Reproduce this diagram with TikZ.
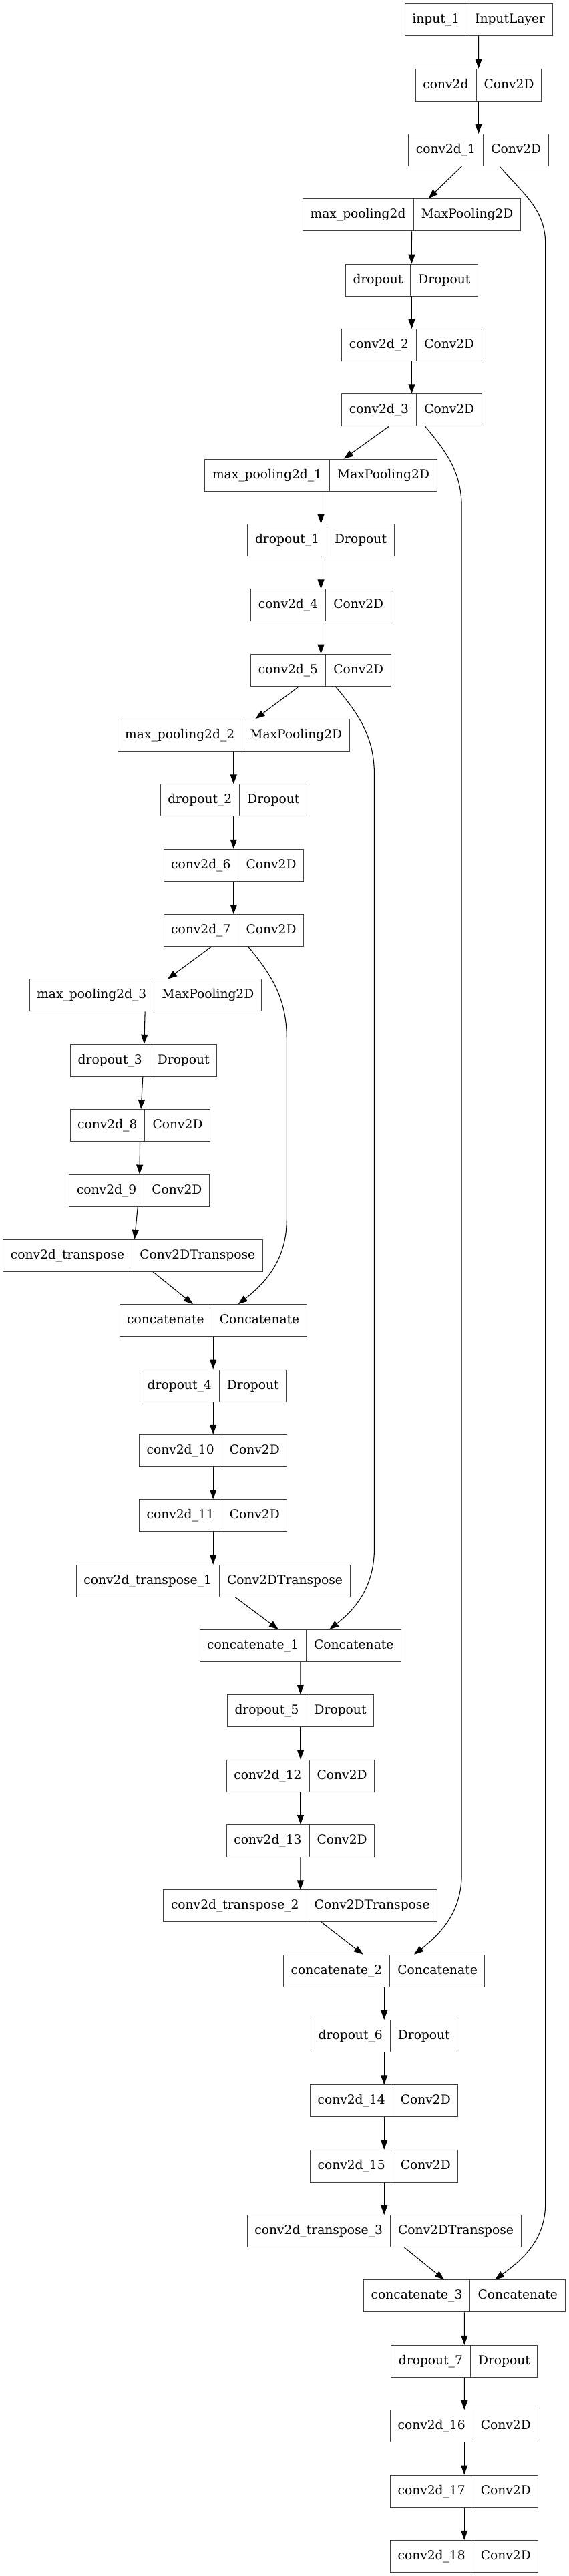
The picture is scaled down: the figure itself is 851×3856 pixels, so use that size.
\documentclass[tikz,border=0pt]{standalone}
\usepackage{fontspec}
\setmainfont{DejaVu Serif}
\usetikzlibrary{shapes.multipart,arrows.meta}
\tikzstyle{layer}=[draw=black!75,line width=0.75pt,rectangle split,rectangle split horizontal,
  rectangle split parts=2,rectangle split part align=base,inner xsep=8.3pt,inner ysep=10.75pt,
  text height=11pt,text depth=3.5pt,font=\fontsize{14}{17}\selectfont]
\tikzstyle{link}=[line width=0.8pt,-{Triangle[length=10.5pt,width=7.5pt]}]

\begin{document}
\begin{tikzpicture}[x=0.75pt,y=-0.75pt]
  \useasboundingbox (0,0) rectangle (851,3856);
  % encoder
  \node[layer] (in1) at (716.7,29.7) {input\_1\nodepart{two}InputLayer};
  \node[layer] (c0) at (716.5,127.05) {conv2d\nodepart{two}Conv2D};
  \node[layer] (c1) at (716.5,224.4) {conv2d\_1\nodepart{two}Conv2D};
  \node[layer] (mp0) at (616.5,321.75) {max\_pooling2d\nodepart{two}MaxPooling2D};
  \node[layer] (dr0) at (616.4,419.1) {dropout\nodepart{two}Dropout};
  \node[layer] (c2) at (616.5,516.45) {conv2d\_2\nodepart{two}Conv2D};
  \node[layer] (c3) at (616.5,613.8) {conv2d\_3\nodepart{two}Conv2D};
  \node[layer] (mp1) at (480.5,711.15) {max\_pooling2d\_1\nodepart{two}MaxPooling2D};
  \node[layer] (dr1) at (480.5,808.5) {dropout\_1\nodepart{two}Dropout};
  \node[layer] (c4) at (480.5,905.85) {conv2d\_4\nodepart{two}Conv2D};
  \node[layer] (c5) at (480.5,1003.2) {conv2d\_5\nodepart{two}Conv2D};
  \node[layer] (mp2) at (349.7,1100.55) {max\_pooling2d\_2\nodepart{two}MaxPooling2D};
  \node[layer] (dr2) at (349.8,1197.9) {dropout\_2\nodepart{two}Dropout};
  \node[layer] (c6) at (349.8,1295.25) {conv2d\_6\nodepart{two}Conv2D};
  \node[layer] (c7) at (349.8,1392.6) {conv2d\_7\nodepart{two}Conv2D};
  \node[layer] (mp3) at (217.8,1489.95) {max\_pooling2d\_3\nodepart{two}MaxPooling2D};
  \node[layer] (dr3) at (215.2,1587.3) {dropout\_3\nodepart{two}Dropout};
  \node[layer] (c8) at (209.8,1684.65) {conv2d\_8\nodepart{two}Conv2D};
  \node[layer] (c9) at (208.7,1782.0) {conv2d\_9\nodepart{two}Conv2D};
  % decoder
  \node[layer] (up0) at (199,1879.35) {conv2d\_transpose\nodepart{two}Conv2DTranspose};
  \node[layer] (cat0) at (319.2,1976.7) {concatenate\nodepart{two}Concatenate};
  \node[layer] (dr4) at (319.2,2074.05) {dropout\_4\nodepart{two}Dropout};
  \node[layer] (c10) at (319.2,2171.4) {conv2d\_10\nodepart{two}Conv2D};
  \node[layer] (c11) at (319.2,2268.75) {conv2d\_11\nodepart{two}Conv2D};
  \node[layer] (up1) at (319.2,2366.1) {conv2d\_transpose\_1\nodepart{two}Conv2DTranspose};
  \node[layer] (cat1) at (449.8,2463.45) {concatenate\_1\nodepart{two}Concatenate};
  \node[layer] (dr5) at (450,2560.8) {dropout\_5\nodepart{two}Dropout};
  \node[layer] (c12) at (450,2658.15) {conv2d\_12\nodepart{two}Conv2D};
  \node[layer] (c13) at (450,2755.5) {conv2d\_13\nodepart{two}Conv2D};
  \node[layer] (up2) at (449.8,2852.85) {conv2d\_transpose\_2\nodepart{two}Conv2DTranspose};
  \node[layer] (cat2) at (575.2,2950.2) {concatenate\_2\nodepart{two}Concatenate};
  \node[layer] (dr6) at (575.2,3047.55) {dropout\_6\nodepart{two}Dropout};
  \node[layer] (c14) at (575.2,3144.9) {conv2d\_14\nodepart{two}Conv2D};
  \node[layer] (c15) at (575.2,3242.25) {conv2d\_15\nodepart{two}Conv2D};
  \node[layer] (up3) at (575.2,3339.6) {conv2d\_transpose\_3\nodepart{two}Conv2DTranspose};
  \node[layer] (cat3) at (695.3,3436.95) {concatenate\_3\nodepart{two}Concatenate};
  \node[layer] (dr7) at (695.4,3534.3) {dropout\_7\nodepart{two}Dropout};
  \node[layer] (c16) at (695.2,3631.65) {conv2d\_16\nodepart{two}Conv2D};
  \node[layer] (c17) at (695.2,3729.0) {conv2d\_17\nodepart{two}Conv2D};
  \node[layer] (c18) at (695.2,3826.35) {conv2d\_18\nodepart{two}Conv2D};

  % main chain
  \draw[link] (in1) -- (c0);
  \draw[link] (c0) -- (c1);
  \draw[link] (c1) -- (mp0);
  \draw[link] (mp0) -- (dr0);
  \draw[link] (dr0) -- (c2);
  \draw[link] (c2) -- (c3);
  \draw[link] (c3) -- (mp1);
  \draw[link] (mp1) -- (dr1);
  \draw[link] (dr1) -- (c4);
  \draw[link] (c4) -- (c5);
  \draw[link] (c5) -- (mp2);
  \draw[link] (mp2) -- (dr2);
  \draw[link] (dr2) -- (c6);
  \draw[link] (c6) -- (c7);
  \draw[link] (c7) -- (mp3);
  \draw[link] (mp3) -- (dr3);
  \draw[link] (dr3) -- (c8);
  \draw[link] (c8) -- (c9);
  \draw[link] (c9) -- (up0);
  \draw[link] (up0) -- (cat0);
  \draw[link] (cat0) -- (dr4);
  \draw[link] (dr4) -- (c10);
  \draw[link] (c10) -- (c11);
  \draw[link] (c11) -- (up1);
  \draw[link] (up1) -- (cat1);
  \draw[link] (cat1) -- (dr5);
  \draw[link] (dr5) -- (c12);
  \draw[link] (c12) -- (c13);
  \draw[link] (c13) -- (up2);
  \draw[link] (up2) -- (cat2);
  \draw[link] (cat2) -- (dr6);
  \draw[link] (dr6) -- (c14);
  \draw[link] (c14) -- (c15);
  \draw[link] (c15) -- (up3);
  \draw[link] (up3) -- (cat3);
  \draw[link] (cat3) -- (dr7);
  \draw[link] (dr7) -- (c16);
  \draw[link] (c16) -- (c17);
  \draw[link] (c17) -- (c18);

  % skip connections
  \draw[link] (748,0 |- c1.south) to[out=-50,in=90] (816.7,365) -- (816.7,3298)
    to[out=-90,in=36] (741,0 |- cat3.north);
  \draw[link] (636.7,0 |- c3.south) to[out=-50,in=90] (691.2,760) -- (691.2,2805)
    to[out=-90,in=38] (620,0 |- cat2.north);
  \draw[link] (502.3,0 |- c5.south) to[out=-50,in=90] (560.5,1160) -- (560.5,2317)
    to[out=-90,in=38] (493.3,0 |- cat1.north);
  \draw[link] (371.6,0 |- c7.south) to[out=-50,in=90] (429.3,1555) -- (429.3,1825)
    to[out=-90,in=38] (356.7,0 |- cat0.north);
\end{tikzpicture}
\end{document}
